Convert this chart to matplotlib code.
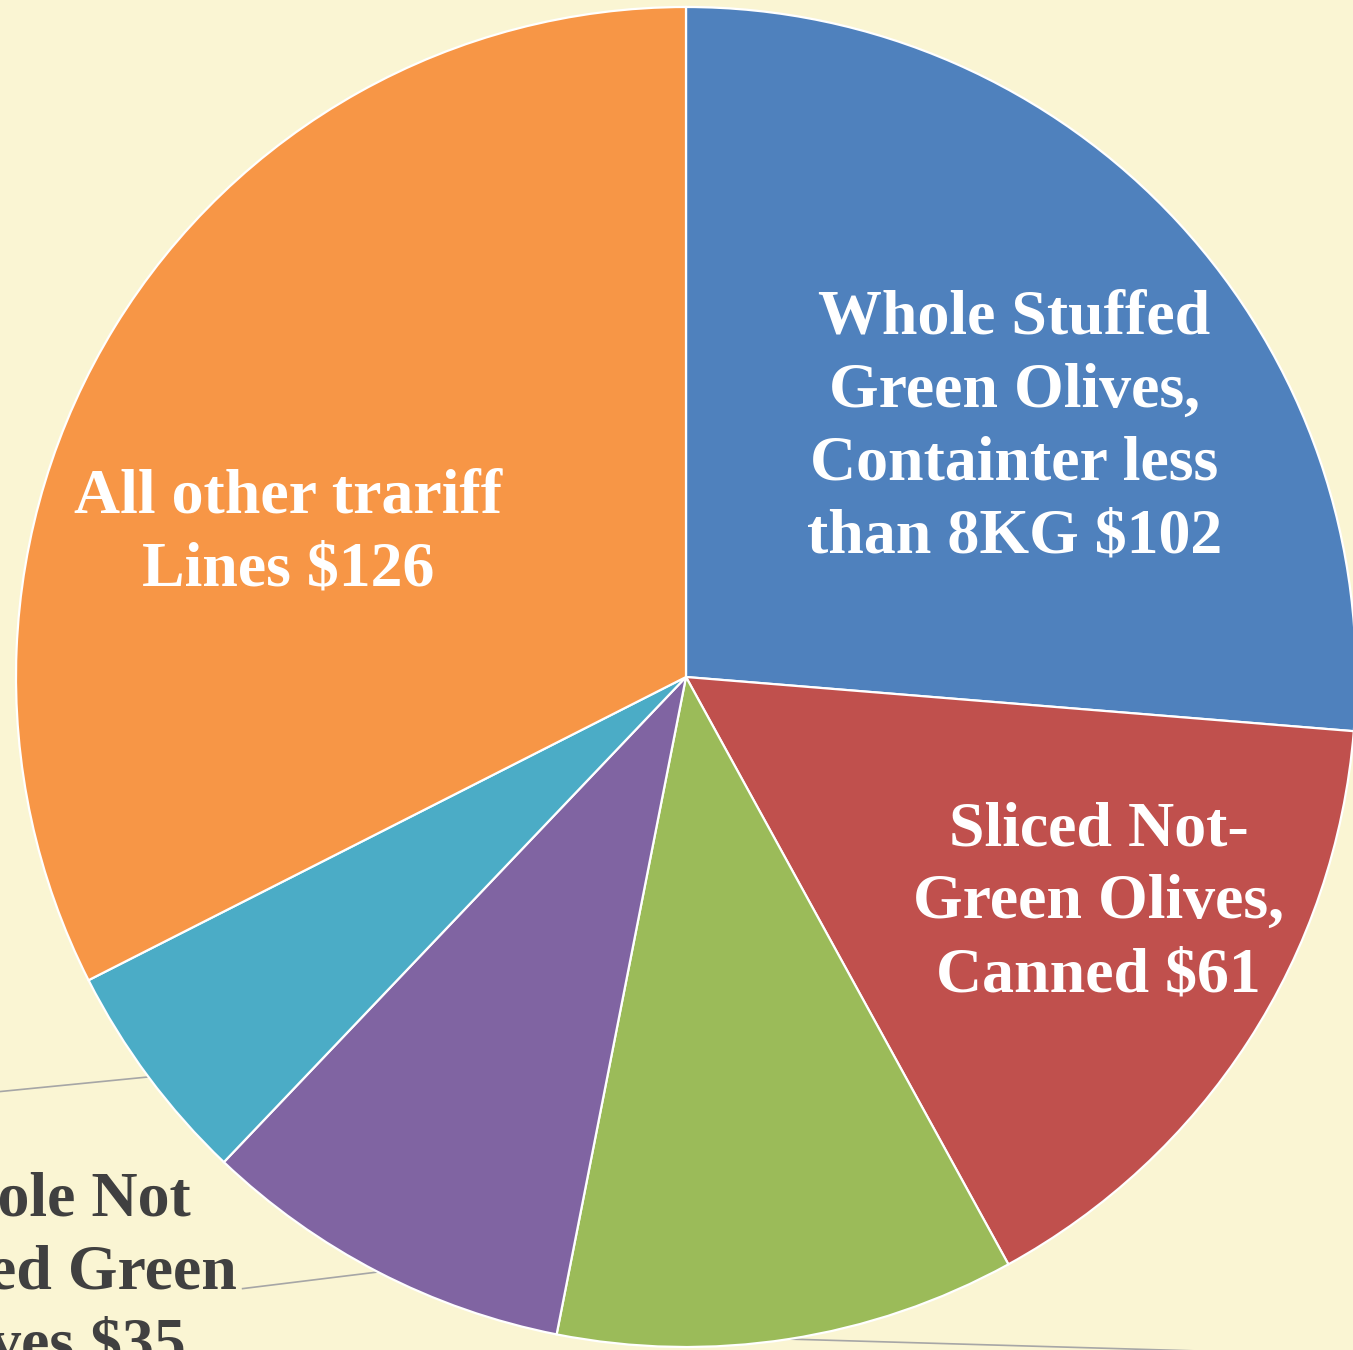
import numpy as np
import matplotlib
matplotlib.use("Agg")
import matplotlib.pyplot as plt

# olive import values (US$), clockwise from 12 o'clock
categories = [
    "Whole Stuffed Green Olives, Containter less than 8KG",
    "Sliced Not-Green Olives, Canned",
    "Other green olives",
    "Whole Not Stuffed Green Olives",
    "Other olives",
    "All other trariff Lines",
]
values = [102, 61, 43, 35, 21, 126]
colors = ["#4F81BD", "#C0504D", "#9BBB59", "#8064A2", "#4BACC6", "#F79646"]

# label text, split in lines as shown; value is appended to the last line
label_lines = [
    ["Whole Stuffed", "Green Olives,", "Containter less", "than 8KG"],
    ["Sliced Not-", "Green Olives,", "Canned"],
    None,
    ["Whole Not", "Stuffed Green", "Olives"],
    None,
    ["All other trariff", "Lines"],
]

BG = "#FAF5D3"
FONT = "Liberation Serif"

fig = plt.figure(figsize=(13.53, 13.50), dpi=100, facecolor=BG)
ax = fig.add_axes([0, 0, 1, 1])
ax.set_facecolor(BG)

wedges, _ = ax.pie(values, colors=colors, startangle=90, counterclock=False,
                   radius=1.0,
                   wedgeprops=dict(edgecolor="white", linewidth=1.6))

# the picture is a crop of a larger chart: pie centre near (686, 677) px, r = 670 px
ax.set_xlim(-686 / 670, 667 / 670)
ax.set_ylim((677 - 1350) / 670, 677 / 670)
ax.set_aspect("auto")
ax.axis("off")

# label placement: (x centre, first baseline y, colour)
label_pos = [
    (0.490, 0.513, "white"),
    (0.616, -0.251, "white"),
    None,
    (-0.957, -0.803, "#404040"),
    None,
    (-0.594, 0.246, "white"),
]
line_step = 73 / 670

for lines, pos, v in zip(label_lines, label_pos, values):
    if lines is None:
        continue
    lines = lines[:-1] + [lines[-1] + " $" + str(v)]
    x, y, c = pos
    for i, ln in enumerate(lines):
        ax.text(x, y - i * line_step, ln, ha="center", va="baseline",
                fontsize=46, fontweight="bold", family=FONT, color=c)


def edge_point(w):
    mid = np.deg2rad((w.theta1 + w.theta2) / 2)
    return np.cos(mid) * w.r, np.sin(mid) * w.r


# leader lines for the labels set outside the pie
leader_ends = {2: (1.25, -1.020), 3: (-0.663, -0.913), 4: (-1.25, -0.641)}
for idx, (ex, ey) in leader_ends.items():
    sx, sy = edge_point(wedges[idx])
    ax.plot([sx, ex], [sy, ey], color="#A6A6A6", lw=1.2, zorder=0.5,
            solid_capstyle="butt")

fig.savefig("out.png", dpi=100, facecolor=BG)
